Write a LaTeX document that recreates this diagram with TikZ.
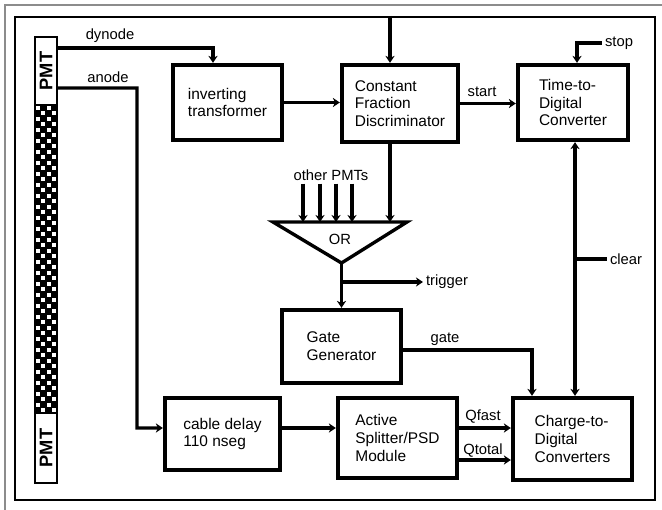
\documentclass[tikz,border=0pt]{standalone}
\usepackage{fontspec}
\setmainfont{Liberation Sans}
\usetikzlibrary{arrows.meta,calc}
\tikzset{
  daq block/.style={
    rectangle,
    draw=black,
    line width=3pt,
    align=left,
    inner sep=2pt,
    font=\fontsize{11}{12.6}\selectfont,
  },
  daq label/.style={
    inner sep=2pt,
    font=\fontsize{10.5}{12}\selectfont,
  },
  daq pmt/.style={
    rectangle,
    draw=black,
    line width=1pt,
    fill=white,
    rotate=90,
    minimum height=0.55cm,
    inner sep=0pt,
    font=\bfseries\fontsize{13}{14}\selectfont,
  },
  daq wire/.style={line width=2.2pt},
  daq arrow/.style={-{Stealth[length=5pt,width=6.5pt]}, line width=2.2pt},
  daq both/.style={{Stealth[length=5pt,width=6.5pt]}-{Stealth[length=5pt,width=6.5pt]}, line width=2.2pt},
}

\begin{document}
\begin{tikzpicture}[x=0.025cm, y=-0.025cm]
  \useasboundingbox (0,0) rectangle (662,510);
  \draw[black!45, line width=1.2pt] (5,510) -- (5,5) -- (662,5);
  \node[draw, line width=1.4pt, minimum width=16cm, minimum height=12.075cm, inner sep=0pt] (frame) at (335,258.5) {};

  % photomultiplier bar
  \fill[black] (35,105) rectangle (57,413);
  \foreach \r in {0,...,55}{
    \pgfmathsetmacro\off{mod(\r,2)}
    \foreach \c in {0,2}
      \fill[white] ({35.75+(\c+\off)*5.5},{105.75+\r*5.5}) rectangle ++(4,4);
  }
  \draw[line width=1pt] (35,37) rectangle (57,483);
  \node[daq pmt, minimum width=1.7cm] (pmt top) at (46,71) {PMT};
  \node[daq pmt, minimum width=1.75cm] (pmt bot) at (46,448) {PMT};

  % modules
  \node[daq block, minimum width=2.725cm, minimum height=1.875cm] (inv) at (227.5,102.5) {inverting\\transformer};
  \node[daq block, minimum width=2.9cm, minimum height=1.925cm] (cfd) at (400,103.5) {Constant\\Fraction\\Discriminator};
  \node[daq block, minimum width=2.75cm, minimum height=1.875cm] (tdc) at (573,102.5) {Time-to-\\Digital\\Converter};
  \node[daq block, minimum width=2.975cm, minimum height=1.825cm] (gate gen) at (341.5,346.5) {Gate\\Generator};
  \node[daq block, minimum width=2.875cm, minimum height=1.8cm] (delay) at (222.5,434) {cable delay\\110 nseg};
  \node[daq block, minimum width=2.975cm, minimum height=2cm] (splitter) at (397.5,438) {Active\\Splitter/PSD\\Module};
  \node[daq block, minimum width=2.975cm, minimum height=2.05cm] (qdc) at (572.5,439) {Charge-to-\\Digital\\Converters};

  % OR gate
  \coordinate (or left) at (273,222);
  \coordinate (or right) at (407,222);
  \coordinate (or apex) at (341.5,263);
  \draw[line width=2.4pt, line join=miter] (or left) -- (or right) -- (or apex) -- cycle;
  \node[daq label] (or) at (340,239) {OR};

  % signal labels
  \node[daq label] (dynode) at (110,36) {dynode};
  \node[daq label] (anode) at (108,77) {anode};
  \node[daq label] (others) at (331,175) {other PMTs};
  \node[daq label] (start) at (482,92) {start};
  \node[daq label] (stop) at (619,43) {stop};
  \node[daq label] (clear) at (626,259) {clear};
  \node[daq label] (trigger) at (447,282) {trigger};
  \node[daq label] (gate) at (445,339) {gate};
  \node[daq label] (qfast) at (483,417) {Qfast};
  \node[daq label] (qtotal) at (483,451) {Qtotal};

  % wiring
  \draw[daq arrow] (pmt top.south |- 0,48) -| ([xshift=-0.3625cm]inv.north);
  \draw[daq arrow] (pmt top.south |- 0,88) -| (137,428) -- ([yshift=0.15cm]delay.west);
  \draw[daq arrow] (inv.east) -- (inv.east -| cfd.west);
  \draw[daq arrow] ([xshift=-0.25cm]cfd.north |- frame.north) -- ([xshift=-0.25cm]cfd.north);
  \draw[daq arrow] (cfd.east) -- (cfd.east -| tdc.west);
  \draw[daq arrow] (stop.west) -| ([xshift=0.1cm]tdc.north);
  \draw[daq arrow] ([xshift=-0.25cm]cfd.south) -- ([xshift=-0.25cm]cfd.south |- or right);
  \foreach \x in {303,320,336,352}
    \draw[daq arrow] (others.south -| \x,0) -- (or left -| \x,0);
  \draw[daq arrow] (or apex) -- (or apex |- gate gen.north);
  \draw[daq arrow] (or apex |- trigger.west) -- (trigger.west);
  \draw[daq arrow] (gate gen.east |- 0,350) -| ([xshift=-1.0125cm]qdc.north);
  \draw[daq arrow] ([yshift=0.15cm]delay.east) -- ([yshift=0.15cm]delay.east -| splitter.west);
  \draw[daq arrow] (splitter.east |- 0,428) -- (qdc.west |- 0,428);
  \draw[daq arrow] (splitter.east |- 0,460) -- (qdc.west |- 0,460);
  \draw[daq both] ([xshift=0.05cm]tdc.south) -- ([xshift=0.05cm]tdc.south |- qdc.north);
  \draw[daq wire] (clear.west) -- (tdc.south |- clear.west);
\end{tikzpicture}
\end{document}
